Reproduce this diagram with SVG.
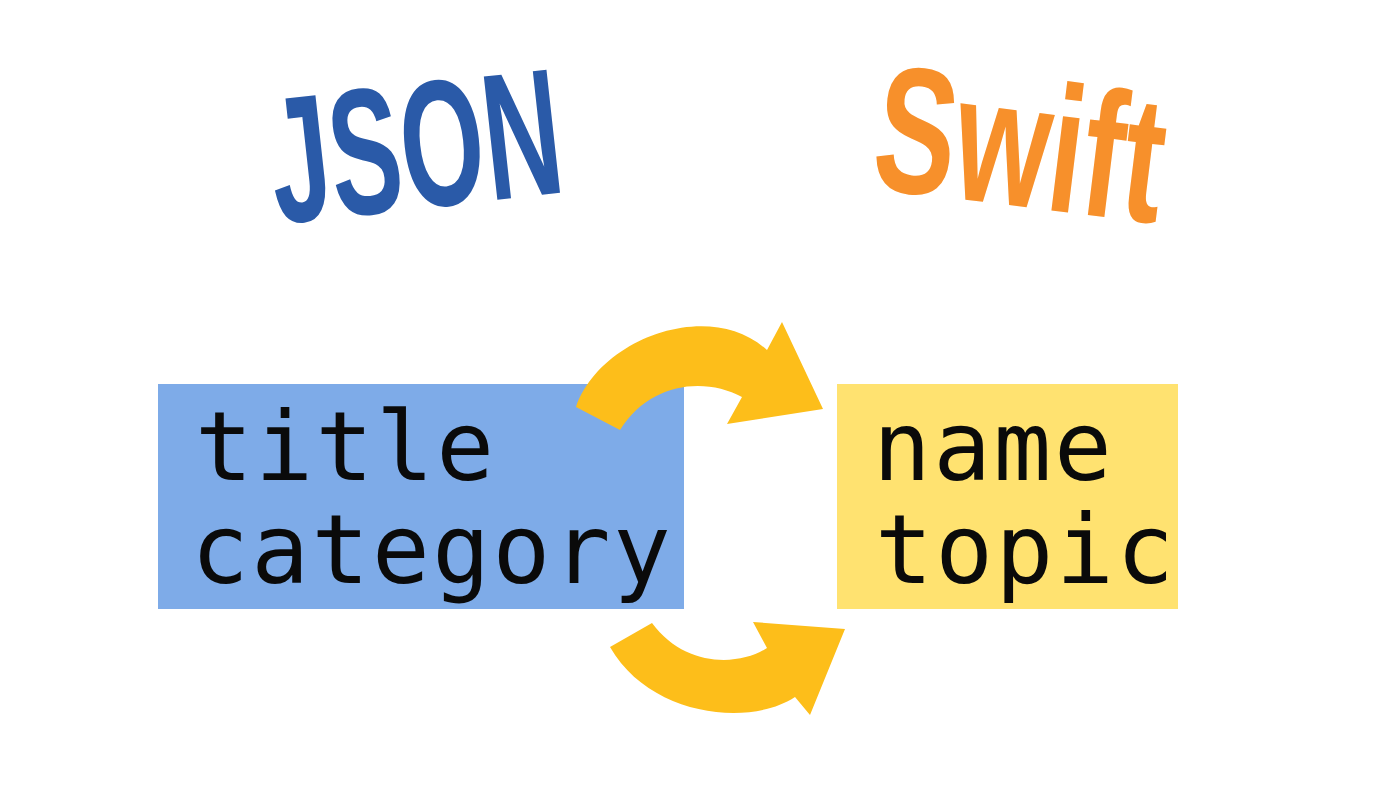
<svg xmlns="http://www.w3.org/2000/svg" width="1400" height="788" viewBox="0 0 1400 788">
<style>
.title{font-family:"Liberation Sans","DejaVu Sans",sans-serif;font-weight:bold;font-size:180px}
.code{font-family:"DejaVu Sans Mono","Liberation Mono",monospace;font-size:96px;fill:#0a0a0a;letter-spacing:2.5px}
.arrow{fill:#FDBE1A}
</style>
<rect width="1400" height="788" fill="#ffffff"/>
<g id="json-title">
<text class="title" fill="#2A5AA8" transform="translate(277,224) rotate(-6.3)" textLength="292" lengthAdjust="spacingAndGlyphs">JSON</text>
</g>
<g id="swift-title">
<text class="title" fill="#F7902B" transform="translate(869,188) rotate(7)" textLength="290" lengthAdjust="spacingAndGlyphs">Swift</text>
</g>
<g id="json-node">
<rect x="158" y="384" width="526" height="225" fill="#7EABE8"/>
<text class="code" x="195" y="480">title</text>
<text class="code" x="191" y="583">category</text>
</g>
<g id="swift-node">
<rect x="837" y="384" width="341" height="225" fill="#FFE270"/>
<text class="code" x="873" y="480">name</text>
<text class="code" x="875" y="583">topic</text>
</g>
<g id="connectors">
<path class="arrow" d="M576,407 C600,338 710,298 767,350 L782,322 L823,409 L727,424 L742,397 C705,377 650,382 620,430 Z"/>
<path class="arrow" d="M610,647 C650,717 750,727 795,697 L810,715 L845,629 L753,622 L767,648 C740,666 685,668 652,623 Z"/>
</g>
</svg>
